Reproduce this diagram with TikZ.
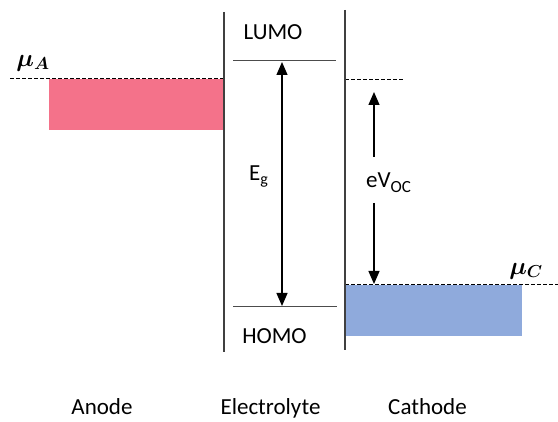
\documentclass[tikz,border=0pt]{standalone}
\usepackage{fontspec}
\setmainfont{Carlito}
\usetikzlibrary{arrows.meta}
\definecolor{anodepink}{RGB}{244,114,138}
\definecolor{cathodeblue}{RGB}{143,170,220}
\begin{document}
\begin{tikzpicture}[x=1pt,y=-1pt,
 lbl/.style={font=\fontsize{23}{27}\selectfont, inner sep=0pt, anchor=base},
 mulbl/.style={font=\fontsize{23}{27}\selectfont\boldmath, inner sep=0pt},
 wall/.style={draw=black!75, line width=1.3pt},
 level/.style={draw=black!70, line width=1pt},
 fermi/.style={draw=black, line width=0.8pt, dash pattern=on 3.5pt off 2.5pt},
 arr/.style={draw=black, line width=1.2pt, -{Triangle[width=11pt,length=13pt]}},
 dblarr/.style={draw=black, line width=1.2pt, {Triangle[width=11pt,length=13pt]}-{Triangle[width=11pt,length=13pt]}}]
\useasboundingbox (0,0) rectangle (558,422);
% bands
\fill[anodepink] (49,79) rectangle (224,130);
\fill[cathodeblue] (346,285) rectangle (522,336);
% Fermi levels
\coordinate (muAl) at (10,78);
\coordinate (muAr) at (224,78);
\coordinate (refl) at (345,79);
\coordinate (refr) at (403,79);
\coordinate (muCl) at (345,284);
\coordinate (muCr) at (558,284);
\draw[fermi] (muAl) -- (muAr);
\draw[fermi] (refl) -- (refr);
\draw[fermi] (muCl) -- (muCr);
% electrolyte walls
\coordinate (wlt) at (224,12);
\coordinate (wlb) at (224,352);
\coordinate (wrt) at (345,10);
\coordinate (wrb) at (345,350);
\draw[wall] (wlt) -- (wlb);
\draw[wall] (wrt) -- (wrb);
% LUMO / HOMO levels
\coordinate (lumol) at (233,61);
\coordinate (lumor) at (336,61);
\coordinate (homol) at (233,307);
\coordinate (homor) at (337,307);
\draw[level] (lumol) -- (lumor);
\draw[level] (homol) -- (homor);
% Eg arrow
\coordinate (egtop) at (282,62);
\coordinate (egbot) at (282,306);
\draw[dblarr] (egbot) -- (egtop);
% eVoc arrows
\coordinate (vtop) at (374,92);
\coordinate (vtopend) at (374,157);
\coordinate (vbot) at (374,284);
\coordinate (vbotend) at (374,203);
\draw[arr] (vtopend) -- (vtop);
\draw[arr] (vbotend) -- (vbot);
% labels
\node[lbl] (lumo) at (273,40) {LUMO};
\node[lbl] (homo) at (274.5,344) {HOMO};
\node[lbl, anchor=base west] (eg) at (249,181) {E\raisebox{-4pt}{\fontsize{16}{16}\selectfont g}};
\node[lbl, anchor=base west] (evoc) at (366,188) {eV\raisebox{-5pt}{\fontsize{17}{17}\selectfont OC}};
\node[mulbl] (muA) at (33,63) {$\mu_A$};
\node[mulbl] (muC) at (526,271) {$\mu_C$};
\node[lbl] (anode) at (102,415) {Anode};
\node[lbl] (electrolyte) at (270.5,415) {Electrolyte};
\node[lbl] (cathode) at (427.5,415) {Cathode};
\end{tikzpicture}
\end{document}
